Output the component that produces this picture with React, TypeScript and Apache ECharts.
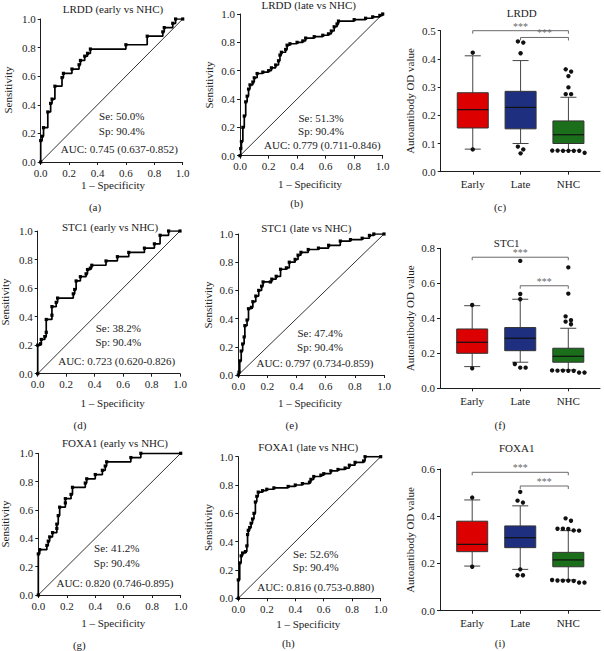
import React, { useEffect, useRef } from "react";
import * as echarts from "echarts";

const FONT = "'Liberation Serif', 'DejaVu Serif', serif";
const INK = "#1c1c1c";

// ---------- ROC curves: [1 - specificity, sensitivity] ----------
const lrddEarlyRoc = [
  [0, 0], [0, 0.15], [0.01, 0.18], [0.02, 0.24], [0.05, 0.35], [0.07, 0.41], [0.08, 0.44],
  [0.1, 0.53], [0.15, 0.59], [0.16, 0.62], [0.22, 0.65], [0.27, 0.68], [0.28, 0.71],
  [0.31, 0.74], [0.33, 0.76], [0.35, 0.79], [0.6, 0.82], [0.75, 0.88], [0.86, 0.91],
  [0.87, 0.94], [0.93, 0.97], [0.95, 1.0], [1, 1],
];
const lrddLateRoc = [
  [0, 0], [0.005, 0.05], [0.01, 0.1], [0.02, 0.2], [0.03, 0.28], [0.04, 0.38], [0.05, 0.42],
  [0.06, 0.47], [0.07, 0.5], [0.09, 0.52], [0.1, 0.55], [0.12, 0.58], [0.16, 0.59], [0.2, 0.6],
  [0.22, 0.62], [0.25, 0.64], [0.27, 0.67], [0.28, 0.71], [0.29, 0.73], [0.32, 0.75],
  [0.33, 0.78], [0.35, 0.79], [0.4, 0.8], [0.44, 0.81], [0.46, 0.83], [0.52, 0.84],
  [0.58, 0.85], [0.62, 0.86], [0.64, 0.88], [0.66, 0.91], [0.68, 0.93], [0.69, 0.95],
  [0.8, 0.96], [0.88, 0.97], [0.93, 0.98], [0.98, 0.99], [1, 1],
];
const stc1EarlyRoc = [
  [0, 0], [0, 0.2], [0.02, 0.21], [0.025, 0.24], [0.05, 0.26], [0.06, 0.29], [0.06, 0.38],
  [0.1, 0.41], [0.1, 0.47], [0.13, 0.5], [0.14, 0.53], [0.25, 0.56], [0.26, 0.59],
  [0.27, 0.65], [0.3, 0.68], [0.34, 0.7], [0.35, 0.73], [0.37, 0.74], [0.38, 0.76],
  [0.48, 0.79], [0.56, 0.82], [0.64, 0.85], [0.75, 0.88], [0.82, 0.91], [0.86, 0.97],
  [0.92, 1.0], [1, 1],
];
const stc1LateRoc = [
  [0, 0], [0.005, 0.02], [0.01, 0.1], [0.02, 0.17], [0.03, 0.22], [0.04, 0.27], [0.045, 0.35],
  [0.06, 0.39], [0.07, 0.47], [0.09, 0.48], [0.1, 0.52], [0.12, 0.56], [0.14, 0.6],
  [0.16, 0.63], [0.17, 0.66], [0.22, 0.66], [0.23, 0.68], [0.26, 0.7], [0.29, 0.75],
  [0.33, 0.76], [0.35, 0.8], [0.39, 0.82], [0.41, 0.85], [0.43, 0.87], [0.48, 0.89],
  [0.55, 0.9], [0.62, 0.92], [0.7, 0.95], [0.77, 0.96], [0.85, 0.97], [0.9, 0.99],
  [0.93, 1.0], [1, 1],
];
const foxa1EarlyRoc = [
  [0, 0], [0, 0.29], [0.01, 0.32], [0.06, 0.35], [0.07, 0.38], [0.08, 0.41], [0.1, 0.44],
  [0.13, 0.47], [0.13, 0.5], [0.14, 0.56], [0.15, 0.62], [0.19, 0.65], [0.19, 0.68],
  [0.23, 0.71], [0.24, 0.76], [0.33, 0.79], [0.34, 0.82], [0.4, 0.85], [0.45, 0.88],
  [0.47, 0.91], [0.48, 0.94], [0.65, 0.97], [0.72, 1.0], [1, 1],
];
const foxa1LateRoc = [
  [0, 0], [0, 0.13], [0.01, 0.25], [0.02, 0.3], [0.03, 0.32], [0.05, 0.33], [0.06, 0.37],
  [0.065, 0.45], [0.07, 0.48], [0.08, 0.5], [0.09, 0.53], [0.1, 0.56], [0.11, 0.6],
  [0.12, 0.68], [0.13, 0.72], [0.14, 0.75], [0.17, 0.76], [0.2, 0.77], [0.25, 0.78],
  [0.35, 0.79], [0.4, 0.8], [0.45, 0.81], [0.5, 0.82], [0.51, 0.84], [0.53, 0.86],
  [0.58, 0.87], [0.6, 0.88], [0.65, 0.9], [0.7, 0.91], [0.75, 0.92], [0.78, 0.94],
  [0.82, 0.96], [0.88, 0.97], [0.89, 1.0], [1, 1],
];

const rocTitles = [
  "LRDD (early vs NHC)", "LRDD (late vs NHC)",
  "STC1 (early vs NHC)", "STC1 (late vs NHC)",
  "FOXA1 (early vs NHC)", "FOXA1 (late vs NHC)",
];
const rocSe = ["Se: 50.0%", "Se: 51.3%", "Se: 38.2%", "Se: 47.4%", "Se: 41.2%", "Se: 52.6%"];
const rocSp = ["Sp: 90.4%", "Sp: 90.4%", "Sp: 90.4%", "Sp: 90.4%", "Sp: 90.4%", "Sp: 90.4%"];
const rocAuc = [
  "AUC: 0.745 (0.637-0.852)", "AUC: 0.779 (0.711-0.846)",
  "AUC: 0.723 (0.620-0.826)", "AUC: 0.797 (0.734-0.859)",
  "AUC: 0.820 (0.746-0.895)", "AUC: 0.816 (0.753-0.880)",
];
const rocTags = ["(a)", "(b)", "(d)", "(e)", "(g)", "(h)"];
const rocCurves = [lrddEarlyRoc, lrddLateRoc, stc1EarlyRoc, stc1LateRoc, foxa1EarlyRoc, foxa1LateRoc];
const rocTicks = [0, 0.2, 0.4, 0.6, 0.8, 1.0];

// ---------- Box plots: [low whisker, Q1, median, Q3, high whisker] ----------
const groups = ["Early", "Late", "NHC"];
const lrddBoxes = [
  [0.08, 0.155, 0.22, 0.28, 0.411],
  [0.1, 0.152, 0.228, 0.285, 0.394],
  [0.075, 0.1, 0.131, 0.18, 0.264],
];
const lrddOutliers = [
  [0.422, 0.079],
  [0.462, 0.458, 0.42, 0.089, 0.079, 0.065],
  [0.363, 0.355, 0.339, 0.299, 0.275, 0.275, 0.075, 0.075, 0.074, 0.074, 0.074, 0.074, 0.067],
];
const stc1Boxes = [
  [0.124, 0.2, 0.263, 0.339, 0.472],
  [0.149, 0.215, 0.286, 0.347, 0.509],
  [0.105, 0.149, 0.183, 0.229, 0.343],
];
const stc1Outliers = [
  [0.476, 0.114],
  [0.728, 0.539, 0.509, 0.139, 0.118, 0.118],
  [0.691, 0.541, 0.411, 0.389, 0.381, 0.366, 0.102, 0.101, 0.101, 0.1, 0.1, 0.09, 0.09],
];
const foxa1Boxes = [
  [0.189, 0.25, 0.281, 0.379, 0.469],
  [0.175, 0.267, 0.309, 0.359, 0.444],
  [0.13, 0.186, 0.215, 0.247, 0.339],
];
const foxa1Outliers = [
  [0.479, 0.186],
  [0.503, 0.466, 0.458, 0.175, 0.15, 0.15],
  [0.391, 0.381, 0.347, 0.347, 0.346, 0.34, 0.339, 0.13, 0.128, 0.127, 0.127, 0.126, 0.119, 0.119],
];
// significance brackets: [from group, to group, level]
const lrddSig = [[1, 3, 0.5], [2, 3, 0.476]];
const stc1Sig = [[1, 3, 0.749], [2, 3, 0.586]];
const foxa1Sig = [[1, 3, 0.586], [2, 3, 0.528]];
const sigLabel = "***";

const boxTitles = ["LRDD", "STC1", "FOXA1"];
const boxTags = ["(c)", "(f)", "(i)"];
const boxYMax = [0.5, 0.8, 0.6];
const boxYStep = [0.1, 0.2, 0.2];
const boxStats = [lrddBoxes, stc1Boxes, foxa1Boxes];
const boxOut = [lrddOutliers, stc1Outliers, foxa1Outliers];
const boxSig = [lrddSig, stc1Sig, foxa1Sig];
const boxYName = "Autoantibody OD value";
const rocYName = "Sensitivity";
const rocXName = "1 \u2013 Specificity";

// ---------- layout (pixels) ----------
const rocGrid = [
  [40.7, 19, 142, 143], [240, 14, 142.7, 141.7],
  [37.7, 231, 142.3, 142.7], [238.3, 234, 145.7, 141],
  [38.3, 453.3, 142.4, 141.7], [238.3, 456.7, 142.4, 141.6],
];
// title, ylabel, xname, tag, Se, Sp, AUC centres
const rocText = [
  { t: [113, 9], y: [8.3, 90], x: [113, 184.5], tag: [95, 207], se: [121.7, 116], sp: [121.7, 130.7], auc: [119.3, 149] },
  { t: [308.7, 5], y: [209, 85], x: [310, 184], tag: [296.7, 203.3], se: [321, 118], sp: [321, 131], auc: [322.3, 145] },
  { t: [110, 226.7], y: [5, 302], x: [112.7, 402.5], tag: [80, 425], se: [118.3, 328], sp: [118.3, 341.7], auc: [116.7, 360.7] },
  { t: [306.3, 228.3], y: [207.7, 305], x: [310, 402.5], tag: [291.7, 425], se: [320, 333], sp: [320, 347], auc: [315, 362.5] },
  { t: [115, 443.3], y: [5, 524], x: [113.3, 623], tag: [79.3, 644.5], se: [116.7, 548.3], sp: [116.7, 563.3], auc: [115, 582.7] },
  { t: [308.3, 446.7], y: [207.7, 527.5], x: [308.3, 623.5], tag: [288.3, 643.3], se: [315.7, 554], sp: [315.7, 567.3], auc: [315.7, 586.7] },
];
const boxGrid = [
  [440.7, 30.7, 159.3, 141], [440, 248.3, 160, 140], [440, 469, 160, 141.7],
];
const boxText = [
  { t: [521.7, 13.3], y: [410, 101], tag: [500, 206.7] },
  { t: [506.7, 243.3], y: [410, 318.3], tag: [500, 425] },
  { t: [516.7, 448.3], y: [410, 540], tag: [500, 643.3] },
];
const boxColors = ["#dd0000", "#1f2f7f", "#1b6f1b"];

const axisStyle = { color: INK, width: 1 };
const labelStyle = { color: INK, fontFamily: FONT, fontSize: 11 };

function txt(pos: number[], text: string, extra: any = {}) {
  return {
    type: "text",
    x: pos[0],
    y: pos[1],
    silent: true,
    style: {
      text,
      fill: INK,
      fontFamily: FONT,
      fontSize: 11,
      align: "center",
      verticalAlign: "middle",
      ...(extra.style || {}),
    },
    ...(extra.rotation ? { rotation: extra.rotation } : {}),
  };
}

function buildOption() {
  const grid: any[] = [];
  const xAxis: any[] = [];
  const yAxis: any[] = [];
  const series: any[] = [];
  const graphic: any[] = [];

  rocCurves.forEach((curve, i) => {
    const g = rocGrid[i];
    grid.push({ left: g[0], top: g[1], width: g[2], height: g[3], outerBoundsMode: "none", containLabel: false });
    const common = {
      gridIndex: i,
      type: "value",
      min: 0,
      max: 1,
      interval: 0.2,
      axisLine: { show: true, onZero: false, lineStyle: axisStyle },
      axisTick: { show: true, length: 3, inside: false, lineStyle: axisStyle },
      splitLine: { show: false },
    };
    xAxis.push({ ...common, axisLabel: { ...labelStyle, margin: 5, formatter: (v: number) => v.toFixed(1) } });
    yAxis.push({ ...common, axisLabel: { ...labelStyle, margin: 5, formatter: (v: number) => v.toFixed(1) } });
    series.push({
      type: "line",
      xAxisIndex: i,
      yAxisIndex: i,
      data: [[rocTicks[0], rocTicks[0]], [rocTicks[5], rocTicks[5]]],
      symbol: "none",
      lineStyle: { color: INK, width: 0.9 },
      silent: true,
      z: 2,
    });
    series.push({
      type: "line",
      xAxisIndex: i,
      yAxisIndex: i,
      data: curve,
      step: "end",
      symbol: "rect",
      symbolSize: 3.2,
      itemStyle: { color: "#000" },
      lineStyle: { color: "#000", width: 1.7 },
      silent: true,
      z: 3,
    });
    const T = rocText[i];
    graphic.push(txt(T.t, rocTitles[i]));
    graphic.push(txt(T.y, rocYName, { rotation: Math.PI / 2 }));
    graphic.push(txt(T.x, rocXName));
    graphic.push(txt(T.tag, rocTags[i]));
    graphic.push(txt(T.se, rocSe[i]));
    graphic.push(txt(T.sp, rocSp[i]));
    graphic.push(txt(T.auc, rocAuc[i]));
  });

  boxStats.forEach((stats, b) => {
    const idx = 6 + b;
    const g = boxGrid[b];
    grid.push({ left: g[0], top: g[1], width: g[2], height: g[3], outerBoundsMode: "none", containLabel: false });
    xAxis.push({
      gridIndex: idx,
      type: "value",
      min: 0.33,
      max: 3.66,
      axisLine: { show: true, onZero: false, lineStyle: axisStyle },
      axisTick: { show: true, length: 3, lineStyle: axisStyle, customValues: [1, 2, 3] },
      axisLabel: {
        ...labelStyle,
        margin: 7,
        customValues: [1, 2, 3],
        formatter: (v: number) => groups[Math.round(v) - 1] || "",
      },
      splitLine: { show: false },
    });
    yAxis.push({
      gridIndex: idx,
      type: "value",
      min: 0,
      max: boxYMax[b],
      interval: boxYStep[b],
      axisLine: { show: true, onZero: false, lineStyle: axisStyle },
      axisTick: { show: true, length: 3, lineStyle: axisStyle },
      axisLabel: { ...labelStyle, margin: 5, formatter: (v: number) => v.toFixed(1) },
      splitLine: { show: false },
    });
    const outs = boxOut[b];
    series.push({
      type: "custom",
      coordinateSystem: "cartesian2d",
      xAxisIndex: idx,
      yAxisIndex: idx,
      clip: false,
      silent: true,
      data: stats.map((s, k) => [k + 1, ...s]),
      encode: { x: 0, y: [1, 2, 3, 4, 5] },
      renderItem: (params: any, api: any) => {
        const x = api.value(0);
        const lo = api.coord([x, api.value(1)]);
        const q1 = api.coord([x, api.value(2)]);
        const md = api.coord([x, api.value(3)]);
        const q3 = api.coord([x, api.value(4)]);
        const hi = api.coord([x, api.value(5)]);
        const cx = lo[0];
        const hw = 15.5;
        const cw = 8;
        const ws = { stroke: "#444", lineWidth: 1 };
        const children: any[] = [
          { type: "line", shape: { x1: cx, y1: q3[1], x2: cx, y2: hi[1] }, style: ws },
          { type: "line", shape: { x1: cx, y1: lo[1], x2: cx, y2: q1[1] }, style: ws },
          { type: "line", shape: { x1: cx - cw, y1: hi[1], x2: cx + cw, y2: hi[1] }, style: ws },
          { type: "line", shape: { x1: cx - cw, y1: lo[1], x2: cx + cw, y2: lo[1] }, style: ws },
          {
            type: "rect",
            shape: { x: cx - hw, y: q3[1], width: hw * 2, height: q1[1] - q3[1] },
            style: { fill: boxColors[params.dataIndex], stroke: "#333", lineWidth: 1 },
          },
          { type: "line", shape: { x1: cx - hw, y1: md[1], x2: cx + hw, y2: md[1] }, style: { stroke: "#111", lineWidth: 1.2 } },
        ];
        // outlier dots, spread sideways when they overlap
        const pts = (outs[params.dataIndex] || []).map((v: number) => api.coord([x, v])[1]).sort((a: number, c: number) => a - c);
        const clusters: number[][] = [];
        pts.forEach((py: number) => {
          const last = clusters[clusters.length - 1];
          if (last && Math.abs(py - last[0]) < 4) last.push(py);
          else clusters.push([py]);
        });
        clusters.forEach((cl) => {
          const n = cl.length;
          cl.forEach((py, k) => {
            const dx = (k - (n - 1) / 2) * 5.4;
            children.push({ type: "circle", shape: { cx: cx + dx, cy: py, r: 2.2 }, style: { fill: "#111" } });
          });
        });
        return { type: "group", children };
      },
      z: 3,
    });
    series.push({
      type: "custom",
      coordinateSystem: "cartesian2d",
      xAxisIndex: idx,
      yAxisIndex: idx,
      clip: false,
      silent: true,
      data: boxSig[b],
      encode: { x: [0, 1], y: 2 },
      renderItem: (params: any, api: any) => {
        const p1 = api.coord([api.value(0), api.value(2)]);
        const p2 = api.coord([api.value(1), api.value(2)]);
        return {
          type: "group",
          children: [
            {
              type: "polyline",
              shape: { points: [[p1[0], p1[1] + 3], [p1[0], p1[1]], [p2[0], p2[1]], [p2[0], p2[1] + 3]] },
              style: { stroke: "#6a6a6a", lineWidth: 1, fill: "none" },
            },
            {
              type: "text",
              style: {
                text: sigLabel,
                x: (p1[0] + p2[0]) / 2,
                y: p1[1] - 4.5,
                fill: "#6a6a6a",
                fontFamily: FONT,
                fontSize: 10,
                align: "center",
                verticalAlign: "middle",
              },
            },
          ],
        };
      },
      z: 4,
    });
    const T = boxText[b];
    graphic.push(txt(T.t, boxTitles[b]));
    graphic.push(txt(T.y, boxYName, { rotation: Math.PI / 2 }));
    graphic.push(txt(T.tag, boxTags[b]));
  });

  return {
    animation: false,
    backgroundColor: "#ffffff",
    grid,
    xAxis,
    yAxis,
    series,
    graphic,
  };
}

export default function App() {
  const ref = useRef<HTMLDivElement>(null);
  useEffect(() => {
    if (!ref.current) return;
    const chart = echarts.init(ref.current, null, { renderer: "svg" });
    chart.setOption(buildOption() as any);
    return () => chart.dispose();
  }, []);
  return (
    <div
      ref={ref}
      style={{ position: "absolute", left: 0, top: 0, width: 604, height: 651, background: "#fff" }}
    />
  );
}
